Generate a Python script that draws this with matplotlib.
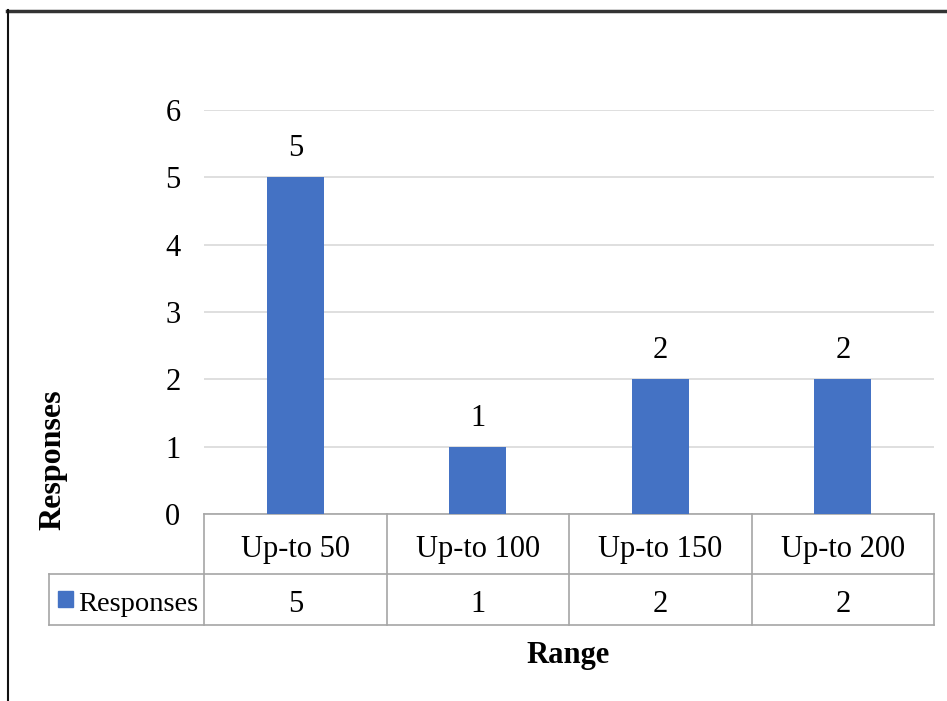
import matplotlib
matplotlib.use("Agg")
import matplotlib.pyplot as plt
from matplotlib.lines import Line2D
from matplotlib.patches import Rectangle

categories = ["Up-to 50", "Up-to 100", "Up-to 150", "Up-to 200"]
responses = [5, 1, 2, 2]
series_name = "Responses"
y_ticks = [0, 1, 2, 3, 4, 5, 6]
x_title = "Range"
y_title = "Responses"

W, H = 947, 701
BAR_COLOR = "#4472C4"
GRID_COLOR = "#d9d9d9"
TABLE_COLOR = "#a6a6a6"
FONT = "Liberation Serif"
FS = 22

plt.rcParams["font.family"] = [FONT, "DejaVu Serif"]

fig = plt.figure(figsize=(W / 100, H / 100), dpi=100)

def fx(x):
    return x / W

def fy(y):
    return 1 - y / H

# plot area in pixels
L, R, T, B = 204, 934, 110, 514
ax = fig.add_axes([fx(L), fy(B), fx(R) - fx(L), fy(T) - fy(B)])

n = len(categories)
xs = list(range(n))
ax.bar(xs, responses, width=0.31, color=BAR_COLOR, zorder=3)
ax.set_xlim(-0.5, n - 0.5)
ax.set_ylim(y_ticks[0], y_ticks[-1])
ax.set_yticks(y_ticks)
ax.set_yticklabels([str(t) for t in y_ticks], fontsize=FS)
ax.tick_params(axis="y", length=0, pad=17)
ax.set_xticks([])
for s in ax.spines.values():
    s.set_visible(False)
ax.grid(axis="y", color=GRID_COLOR, linewidth=1.2, zorder=0)
ax.set_axisbelow(True)

for x, v in zip(xs, responses):
    ax.annotate(str(v), (x, v), xytext=(0, 10), textcoords="offset points",
                ha="center", va="bottom", fontsize=FS)

# data table below the plot
trans = ax.get_xaxis_transform()  # x in data, y in axes fraction
ax_h_px = B - T

def ay(ypix):
    return (B - ypix) / ax_h_px

row1_top = ay(B)
r1_bot = ay(574)
r2_bot = ay(625)
legend_left_px = 49
lw = 1.2
ax.add_line(Line2D([-0.5, n - 0.5], [row1_top, row1_top], transform=trans,
                   color=TABLE_COLOR, lw=lw, clip_on=False))
for ypx in (574, 625):
    fig.add_artist(Line2D([fx(legend_left_px), fx(R)], [fy(ypx)] * 2,
                          transform=fig.transFigure, color=TABLE_COLOR, lw=lw))
for i in range(n + 1):
    ax.add_line(Line2D([i - 0.5, i - 0.5], [row1_top, r2_bot], transform=trans,
                       color=TABLE_COLOR, lw=lw, clip_on=False))
fig.add_artist(Line2D([fx(legend_left_px)] * 2, [fy(574), fy(625)],
                      transform=fig.transFigure, color=TABLE_COLOR, lw=lw))

# table texts (baselines)
for x, c, v in zip(xs, categories, responses):
    ax.text(x, ay(557), c, transform=trans, ha="center",
            va="baseline", fontsize=FS, clip_on=False)
    ax.text(x, ay(612), str(v), transform=trans, ha="center",
            va="baseline", fontsize=FS, clip_on=False)

# legend key in table
fig.add_artist(Rectangle((fx(58), fy(607)), fx(15), fy(591) - fy(607),
                         transform=fig.transFigure, color=BAR_COLOR))
fig.text(fx(78), fy(611), series_name, ha="left", va="baseline", fontsize=20.5)

# axis titles
fig.text(fx(568), fy(663), x_title, ha="center", va="baseline", fontsize=FS,
         fontweight="bold")
fig.text(fx(53), fy(460), y_title, ha="center", va="center", fontsize=FS + 1,
         fontweight="bold", rotation=90)

# outer frame (top and left edges)
fig.add_artist(Line2D([fx(7), 1], [fy(11), fy(11)], transform=fig.transFigure,
                      color="#333333", lw=2.5))
fig.add_artist(Line2D([fx(8), fx(8)], [fy(10), 0], transform=fig.transFigure,
                      color="#111111", lw=1.5))

fig.savefig("out.png", dpi=100, facecolor="white")
